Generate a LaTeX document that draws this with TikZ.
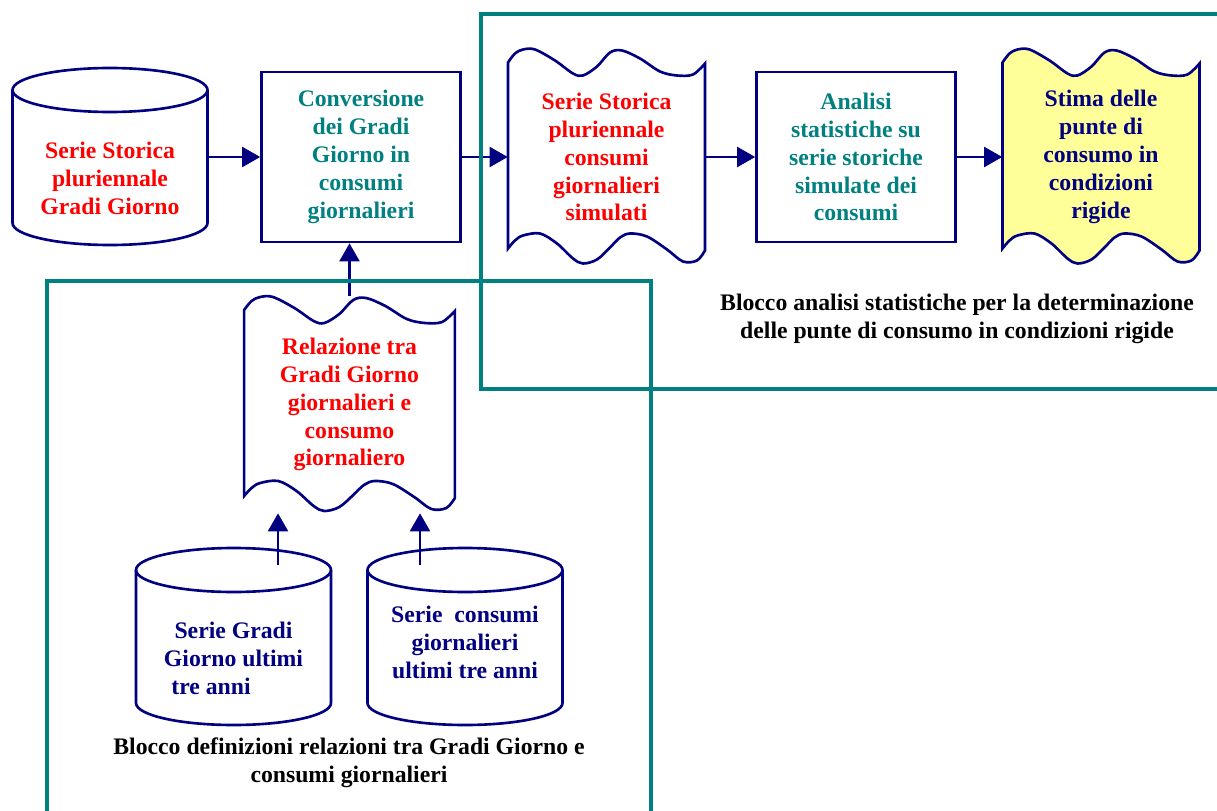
\documentclass[tikz,border=0pt]{standalone}
\usepackage{fontspec}
\setmainfont{Liberation Serif}
\usetikzlibrary{arrows.meta,backgrounds}

\definecolor{navyline}{HTML}{000080}
\definecolor{tealblk}{HTML}{008080}
\definecolor{redtxt}{HTML}{FF0000}
\definecolor{stimafill}{HTML}{FFFF99}

\newcommand{\cylout}[2][0]{%
  \begin{scope}[on background layer,shift={(#2.center)},shift={(0,#1)}]
    \draw[shapeline] (-97.5,-88.5) -- (-97.5,44.5)
      arc[start angle=180,end angle=0,x radius=97.5,y radius=22] -- (97.5,-88.5);
    \draw[shapeline] (0,-88.5) ellipse[x radius=97.5,y radius=22];
  \end{scope}}

\newcommand{\docout}[3][1]{%
  \begin{scope}[on background layer,shift={(#2.center)},xscale=#1]
    \filldraw[shapeline,fill=#3] (-98.5,91.5)
      -- plot[smooth,tension=0.55] coordinates {(-98.5,-94.5) (-91.5,-103.5) (-83.5,-107.5)
        (-71.5,-107.5) (-51.5,-96.5) (-33.5,-83.5) (-23.5,-81.5) (-9.5,-90.5) (3.5,-104.5)
        (15.5,-106.5) (33.5,-98.5) (53.5,-85.5) (70.5,-81.5) (86.5,-82.5) (98.5,-93.5)}
      -- plot[smooth,tension=0.55] coordinates {(98.5,93.5) (90.5,103.5) (76.5,104.5)
        (60.5,92.5) (40.5,79.5) (23.5,76.5) (13.5,80.5) (3.5,90.5) (-9.5,102.5)
        (-23.5,106.5) (-33.5,101.5) (-49.5,86.5) (-66.5,76.5) (-83.5,78.5) (-91.5,83.5)
        (-98.5,91.5)} -- cycle;
  \end{scope}}

\begin{document}
\begin{tikzpicture}[x=0.02cm,y=-0.02cm,
    shapeline/.style={draw=navyline,line width=1.5pt},
    arr/.style={draw=navyline,line width=1.2pt,-{Triangle[length=0.36cm,width=0.4cm]}},
    txt/.style={font=\fontsize{13.5}{15.9}\selectfont\bfseries,align=center,inner sep=0pt},
    cylbody/.style={txt,minimum width=3.9cm,minimum height=2.66cm},
    docbox/.style={txt,minimum width=3.94cm,minimum height=4.34cm},
    procbox/.style={txt,shapeline,minimum width=3.98cm,minimum height=3.4cm,text=tealblk},
    blocco/.style={draw=tealblk,line width=2.3pt}]
    \useasboundingbox (0,0) rectangle (1217,811);

    \node[cylbody,text=redtxt] (ssgg) at (110,178.5) {Serie Storica\\pluriennale\\Gradi Giorno};
    \node[procbox] (conv) at (361,157) {Conversione\\dei Gradi\\Giorno in\\consumi\\giornalieri};
    \node[docbox,text=redtxt] (sscs) at (606.5,157) {Serie Storica\\pluriennale\\consumi\\giornalieri\\simulati};
    \node[procbox] (anst) at (856,157) {Analisi\\statistiche su\\serie storiche\\simulate dei\\consumi};
    \node[docbox,text=navyline] (stima) at (1101,157) {Stima delle\\punte di\\consumo in\\condizioni\\rigide};
    \node[docbox,text=redtxt,minimum width=4.22cm] (relgg) at (349.5,404.5) {Relazione tra\\Gradi Giorno\\giornalieri e\\consumo\\giornaliero};
    \node[cylbody,text=navyline] (ggtre) at (233.5,658.5) {Serie Gradi\\Giorno ultimi\\tre anni\hspace*{0.9cm}};
    \node[cylbody,text=navyline] (cgtre) at (465,642.5) {Serie~ consumi\\giornalieri\\ultimi tre anni};
    \node[txt] (lbl-an) at (957,319) {Blocco analisi statistiche per la determinazione\\delle punte di consumo in condizioni rigide};
    \node[txt] (lbl-def) at (349,763) {Blocco definizioni relazioni tra Gradi Giorno e\\consumi giornalieri};

    \cylout{ssgg}
    \cylout{ggtre}
    \cylout[16]{cgtre}
    \docout{sscs}{white}
    \docout{stima}{stimafill}
    \docout[1.07]{relgg}{white}

    \draw[arr] (ssgg.east |- conv.west) -- (conv.west);
    \draw[arr] (conv.east) -- (sscs.west);
    \draw[arr] (sscs.east) -- (anst.west);
    \draw[arr] (anst.east) -- (stima.west);
    \draw[arr] (relgg.north) -- (relgg.north |- conv.south);
    \coordinate (gg-in) at ([shift={(44.5,-27)}]ggtre.north);
    \coordinate (cg-in) at ([shift={(-45,-11)}]cgtre.north);
    \draw[arr] (gg-in) -- (gg-in |- relgg.south);
    \draw[arr] (cg-in) -- (cg-in |- relgg.south);

    \draw[blocco] (1230,14) -- (481,14) -- (481,389) -- (1230,389);
    \draw[blocco] (47,830) -- (47,281) -- (651,281) -- (651,830);
\end{tikzpicture}
\end{document}
